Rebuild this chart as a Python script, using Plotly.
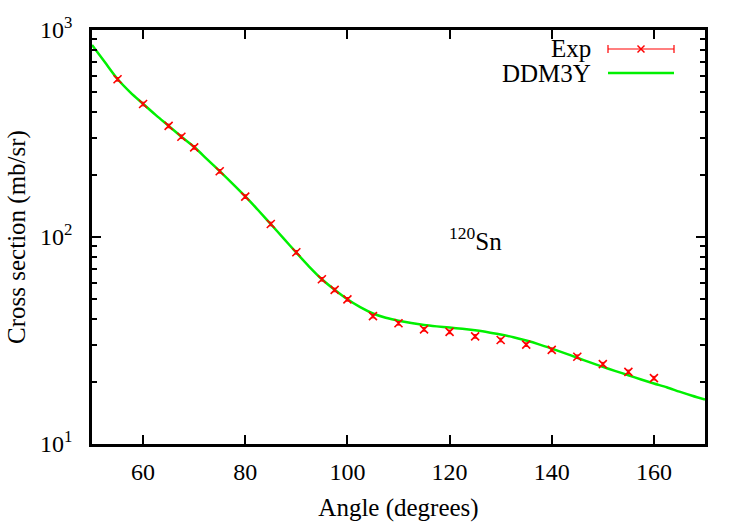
import plotly.graph_objects as go

# Experimental data
exp_angle = [55, 60, 65, 67.5, 70, 75, 80, 85, 90, 95, 97.5, 100, 105, 110, 115,
             120, 125, 130, 135, 140, 145, 150, 155, 160]
exp_xs = [578, 439, 344, 305, 271, 207.7, 156.7, 115.6, 84.4, 62.5, 55.5, 50.0,
          41.5, 38.3, 35.8, 34.8, 33.1, 31.8, 30.2, 28.5, 26.4, 24.3, 22.3, 20.8]

# DDM3Y calculation
th_angle = [50, 52.5, 55, 57.5, 60, 62.5, 65, 67.5, 70, 72.5, 75, 77.5, 80, 82.5,
            85, 87.5, 90, 92.5, 95, 97.5, 100, 102.5, 105, 107.5, 110, 112.5, 115,
            117.5, 120, 122.5, 125, 127.5, 130, 132.5, 135, 137.5, 140, 142.5, 145,
            147.5, 150, 152.5, 155, 157.5, 160, 162.5, 165, 167.5, 170]
th_xs = [847, 700, 580, 500, 440, 388, 344, 305, 272, 238, 208, 181, 157, 135,
         115.5, 98.5, 84, 72, 62.5, 55.6, 50.0, 45.8, 42.7, 40.7, 39.4, 38.4, 37.6,
         37.0, 36.5, 36.0, 35.4, 34.7, 33.8, 32.8, 31.6, 30.3, 28.9, 27.5, 26.1,
         24.8, 23.6, 22.5, 21.5, 20.5, 19.6, 18.8, 17.9, 17.1, 16.4]

x_ticks = [60, 80, 100, 120, 140, 160]
y_ticks = [10, 100, 1000]
y_tick_text = ["10<sup>1</sup>", "10<sup>2</sup>", "10<sup>3</sup>"]

FONT = "Liberation Serif, Times New Roman, serif"
FS = 24
TFS = 25

fig = go.Figure()
fig.add_trace(go.Scatter(
    x=th_angle, y=th_xs, mode="lines", name="DDM3Y",
    line=dict(color="#00f000", width=2.5, shape="spline", smoothing=0.8),
    showlegend=False))
fig.add_trace(go.Scatter(
    x=exp_angle, y=exp_xs, mode="markers", name="Exp",
    marker=dict(symbol="x-thin", size=8, color="red", line=dict(color="red", width=1.6)),
    error_y=dict(type="percent", value=2, color="red", thickness=1, width=2),
    showlegend=False))

axis_common = dict(
    showline=True, linecolor="black", linewidth=2.5, mirror="ticks",
    ticks="inside", tickcolor="black", tickwidth=1.5, showgrid=False, zeroline=False,
    automargin=False,
    tickfont=dict(family=FONT, size=FS, color="black"),
)

fig.update_xaxes(range=[50, 170], tickvals=x_ticks, ticklen=9, ticklabelstandoff=4,
                 title=dict(text="Angle (degrees)", font=dict(family=FONT, size=TFS, color="black"), standoff=15),
                 **axis_common)
fig.update_yaxes(type="log", range=[1, 3], tickvals=y_ticks, ticktext=y_tick_text, ticklen=9,
                 ticklabelstandoff=12,
                 minor=dict(ticks="inside", ticklen=5, dtick="D1", tickcolor="black", tickwidth=1.5, showgrid=False),
                 title=dict(text="Cross section (mb/sr)", font=dict(family=FONT, size=TFS, color="black"), standoff=8),
                 **axis_common)

# Nucleus label
fig.add_annotation(x=125, y=1.99, xref="x", yref="y", text="<sup>120</sup>Sn", showarrow=False,
                   font=dict(family=FONT, size=FS + 1, color="black"))

# Custom gnuplot-style key
def px(x):
    return (x - 92) / 613

def py(y):
    return (444 - y) / 414

fig.add_annotation(x=px(593), y=py(49), xref="paper", yref="paper", text="Exp", showarrow=False,
                   xanchor="right", yanchor="middle", font=dict(family=FONT, size=TFS, color="black"))
fig.add_annotation(x=px(593), y=py(73), xref="paper", yref="paper", text="DDM3Y", showarrow=False,
                   xanchor="right", yanchor="middle", font=dict(family=FONT, size=TFS, color="black"))
fig.add_shape(type="line", xref="paper", yref="paper", x0=px(608), x1=px(674), y0=py(49), y1=py(49),
              line=dict(color="red", width=1.2))
for xc in (608, 674):
    fig.add_shape(type="line", xref="paper", yref="paper", x0=px(xc), x1=px(xc), y0=py(45), y1=py(53),
                  line=dict(color="red", width=1.2))
fig.add_shape(type="line", xref="paper", yref="paper", x0=px(637.5), x1=px(644.5), y0=py(45.5), y1=py(52.5),
              line=dict(color="red", width=1.5))
fig.add_shape(type="line", xref="paper", yref="paper", x0=px(637.5), x1=px(644.5), y0=py(52.5), y1=py(45.5),
              line=dict(color="red", width=1.5))
fig.add_shape(type="line", xref="paper", yref="paper", x0=px(608), x1=px(674), y0=py(73), y1=py(73),
              line=dict(color="#00f000", width=2.5))

fig.update_layout(
    width=750, height=525,
    margin=dict(l=92, r=45, t=30, b=81),
    paper_bgcolor="white", plot_bgcolor="white",
    font=dict(family=FONT, size=FS, color="black"),
)

fig.write_html("out.html")
